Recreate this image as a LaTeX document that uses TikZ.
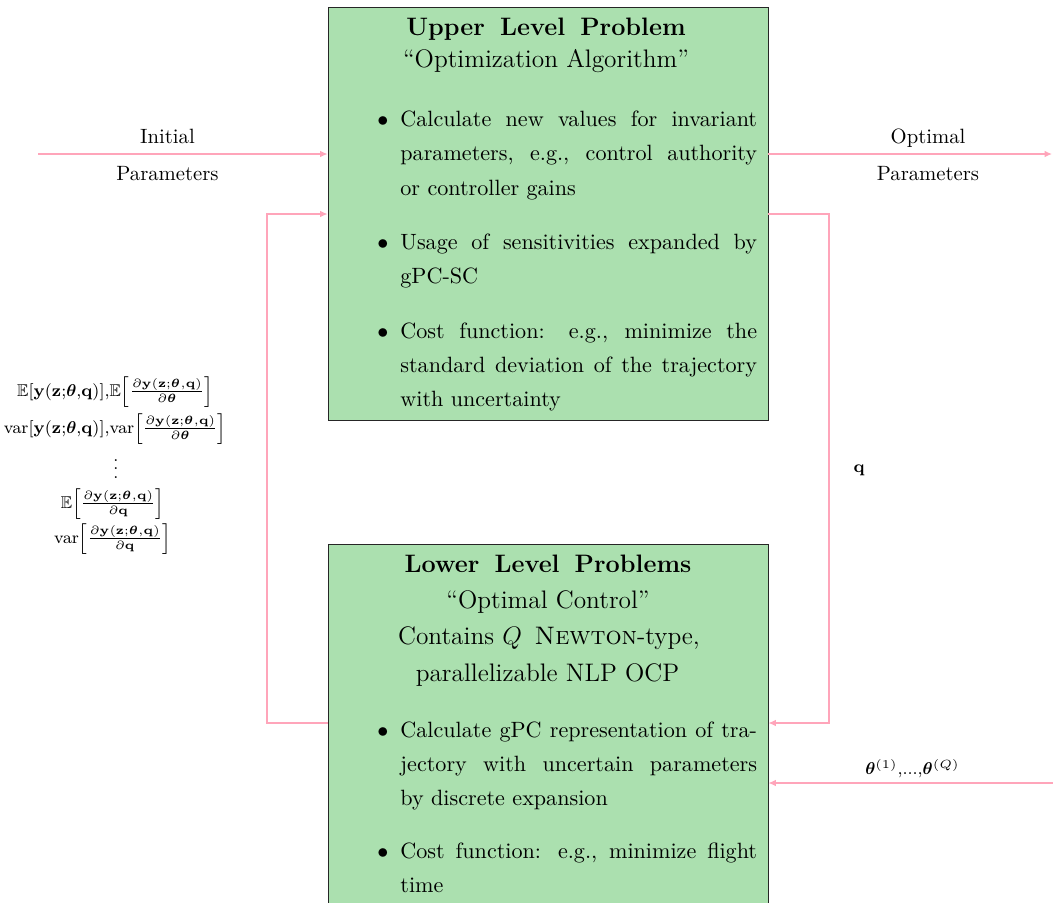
\RequirePackage{fix-cm}
\documentclass[tikz,border=0pt]{standalone}
\usepackage{amsmath,amssymb}
\usetikzlibrary{arrows.meta,fit}

\definecolor{boxgreen}{RGB}{171,224,175}
\definecolor{flowpink}{RGB}{255,165,186}

% output vector and its partial derivative, bold symbols only
\newcommand{\yzq}{\mathbf{y}(\mathbf{z}{;}\boldsymbol{\theta}{,}\mathbf{q})}
\newcommand{\pyzq}{\partial\yzq}
\newcommand{\bulletmark}{\noindent\leavevmode\llap{$\bullet$\hspace{5.8pt}}}

\begin{document}
\begin{tikzpicture}[x=0.017cm, y=-0.017cm,
  level/.style={draw=black!85, line width=0.4pt, fill=boxgreen, inner sep=0pt},
  heading/.style={anchor=base, inner sep=0pt, font=\fontsize{12.2}{14}\selectfont\bfseries},
  subhead/.style={anchor=base, inner sep=0pt, font=\fontsize{12.25}{14}\selectfont},
  point/.style={anchor=base west, inner sep=0pt, text width=172.5pt, align=justify,
                font=\fontsize{10.7}{16.6}\selectfont},
  tag/.style={anchor=base, inner sep=0pt, font=\fontsize{10}{12}\selectfont},
  mtag/.style={anchor=base, inner sep=0pt, font=\fontsize{8.25}{10}\selectfont},
  flow/.style={draw=flowpink, line width=0.6pt, -{Latex[length=3.6pt,width=3.2pt]}}]

\useasboundingbox (0,0) rectangle (1053,902);

% the two levels of the problem
\node[level, fit={(328,7) (768,420)}] (upper) {};
\node[level, fit={(328,544) (768,915)}] (lower) {};

% upper level contents
\node[heading] (upTitle) at (546,35) {Upper\hspace{.6em}Level\hspace{.6em}Problem};
\node[subhead] (upSub) at (546,67) {``Optimization Algorithm''};
\node[point] (up1) at (400,126.5) {\bulletmark Calculate new values for invariant\linebreak
  parameters, e.g., control authority\linebreak or controller gains};
\node[point] (up2) at (400,249.5) {\bulletmark Usage of sensitivities expanded by\linebreak gPC-SC};
\node[point] (up3) at (400,338) {\bulletmark Cost function: e.g., minimize the\linebreak
  standard deviation of the trajectory\linebreak with uncertainty};

% lower level contents
\node[heading] (lowTitle) at (548,572) {Lower\hspace{.6em}Level\hspace{.6em}Problems};
\node[subhead] (lowSub) at (548,608) {``Optimal Control''};
\node[subhead] (lowSub2) at (549,644.5) {Contains $Q$\hspace{.5em}\textsc{Newton}-type,};
\node[subhead] (lowSub3) at (547.5,681) {parallelizable NLP OCP};
\node[point] (low1) at (400,737) {\bulletmark Calculate gPC representation of tra-\linebreak
  jectory with uncertain parameters\linebreak by discrete expansion};
\node[point] (low2) at (400,858) {\bulletmark Cost function: e.g., minimize flight\linebreak time};

% end points of the free connectors and routing rows
\coordinate (inStart) at (38,154);
\coordinate (outEnd) at (1052,154);
\coordinate (rowUp) at (548,214);
\coordinate (rowLow) at (548,723);
\coordinate (thStart) at (1053,783);

% connectors
\draw[flow] (inStart) -- (inStart -| upper.west);
\draw[flow] (outEnd -| upper.east) -- (outEnd);
\draw[flow] (rowUp -| upper.east) -- ++(60.5,0) |- (rowLow -| lower.east);
\draw[flow] (rowLow -| lower.west) -- ++(-60.5,0) |- (rowUp -| upper.west);
\draw[flow] (thStart) -- (thStart -| lower.east);

% connector labels
\node[tag] (inLab1) at (167.5,143) {Initial};
\node[tag] (inLab2) at (167.5,180) {Parameters};
\node[tag] (outLab1) at (928,143) {Optimal};
\node[tag] (outLab2) at (928,180) {Parameters};
\node[mtag] (qLab) at (859,472) {$\mathbf{q}$};
\node[mtag] (thLab) at (912.5,774) {$\boldsymbol{\theta}^{(1)}{,}{.}{.}{.}{,}\boldsymbol{\theta}^{(Q)}$};

% sensitivities passed back to the upper level
\node[mtag] (sens1) at (115,396) {$\mathbb{E}[\yzq]{,}\mathbb{E}{\left[\frac{\pyzq}{\partial\boldsymbol{\theta}}\right]}$};
\node[mtag] (sens2) at (115,433) {$\mathrm{var}[\yzq]{,}\mathrm{var}{\left[\frac{\pyzq}{\partial\boldsymbol{\theta}}\right]}$};
\node[mtag] (sens3) at (116,478) {$\smash{\vdots}$};
\node[mtag] (sens4) at (112.5,508) {$\mathbb{E}{\left[\frac{\pyzq}{\partial\mathbf{q}}\right]}$};
\node[mtag] (sens5) at (112.5,543) {$\mathrm{var}{\left[\frac{\pyzq}{\partial\mathbf{q}}\right]}$};
\end{tikzpicture}
\end{document}
